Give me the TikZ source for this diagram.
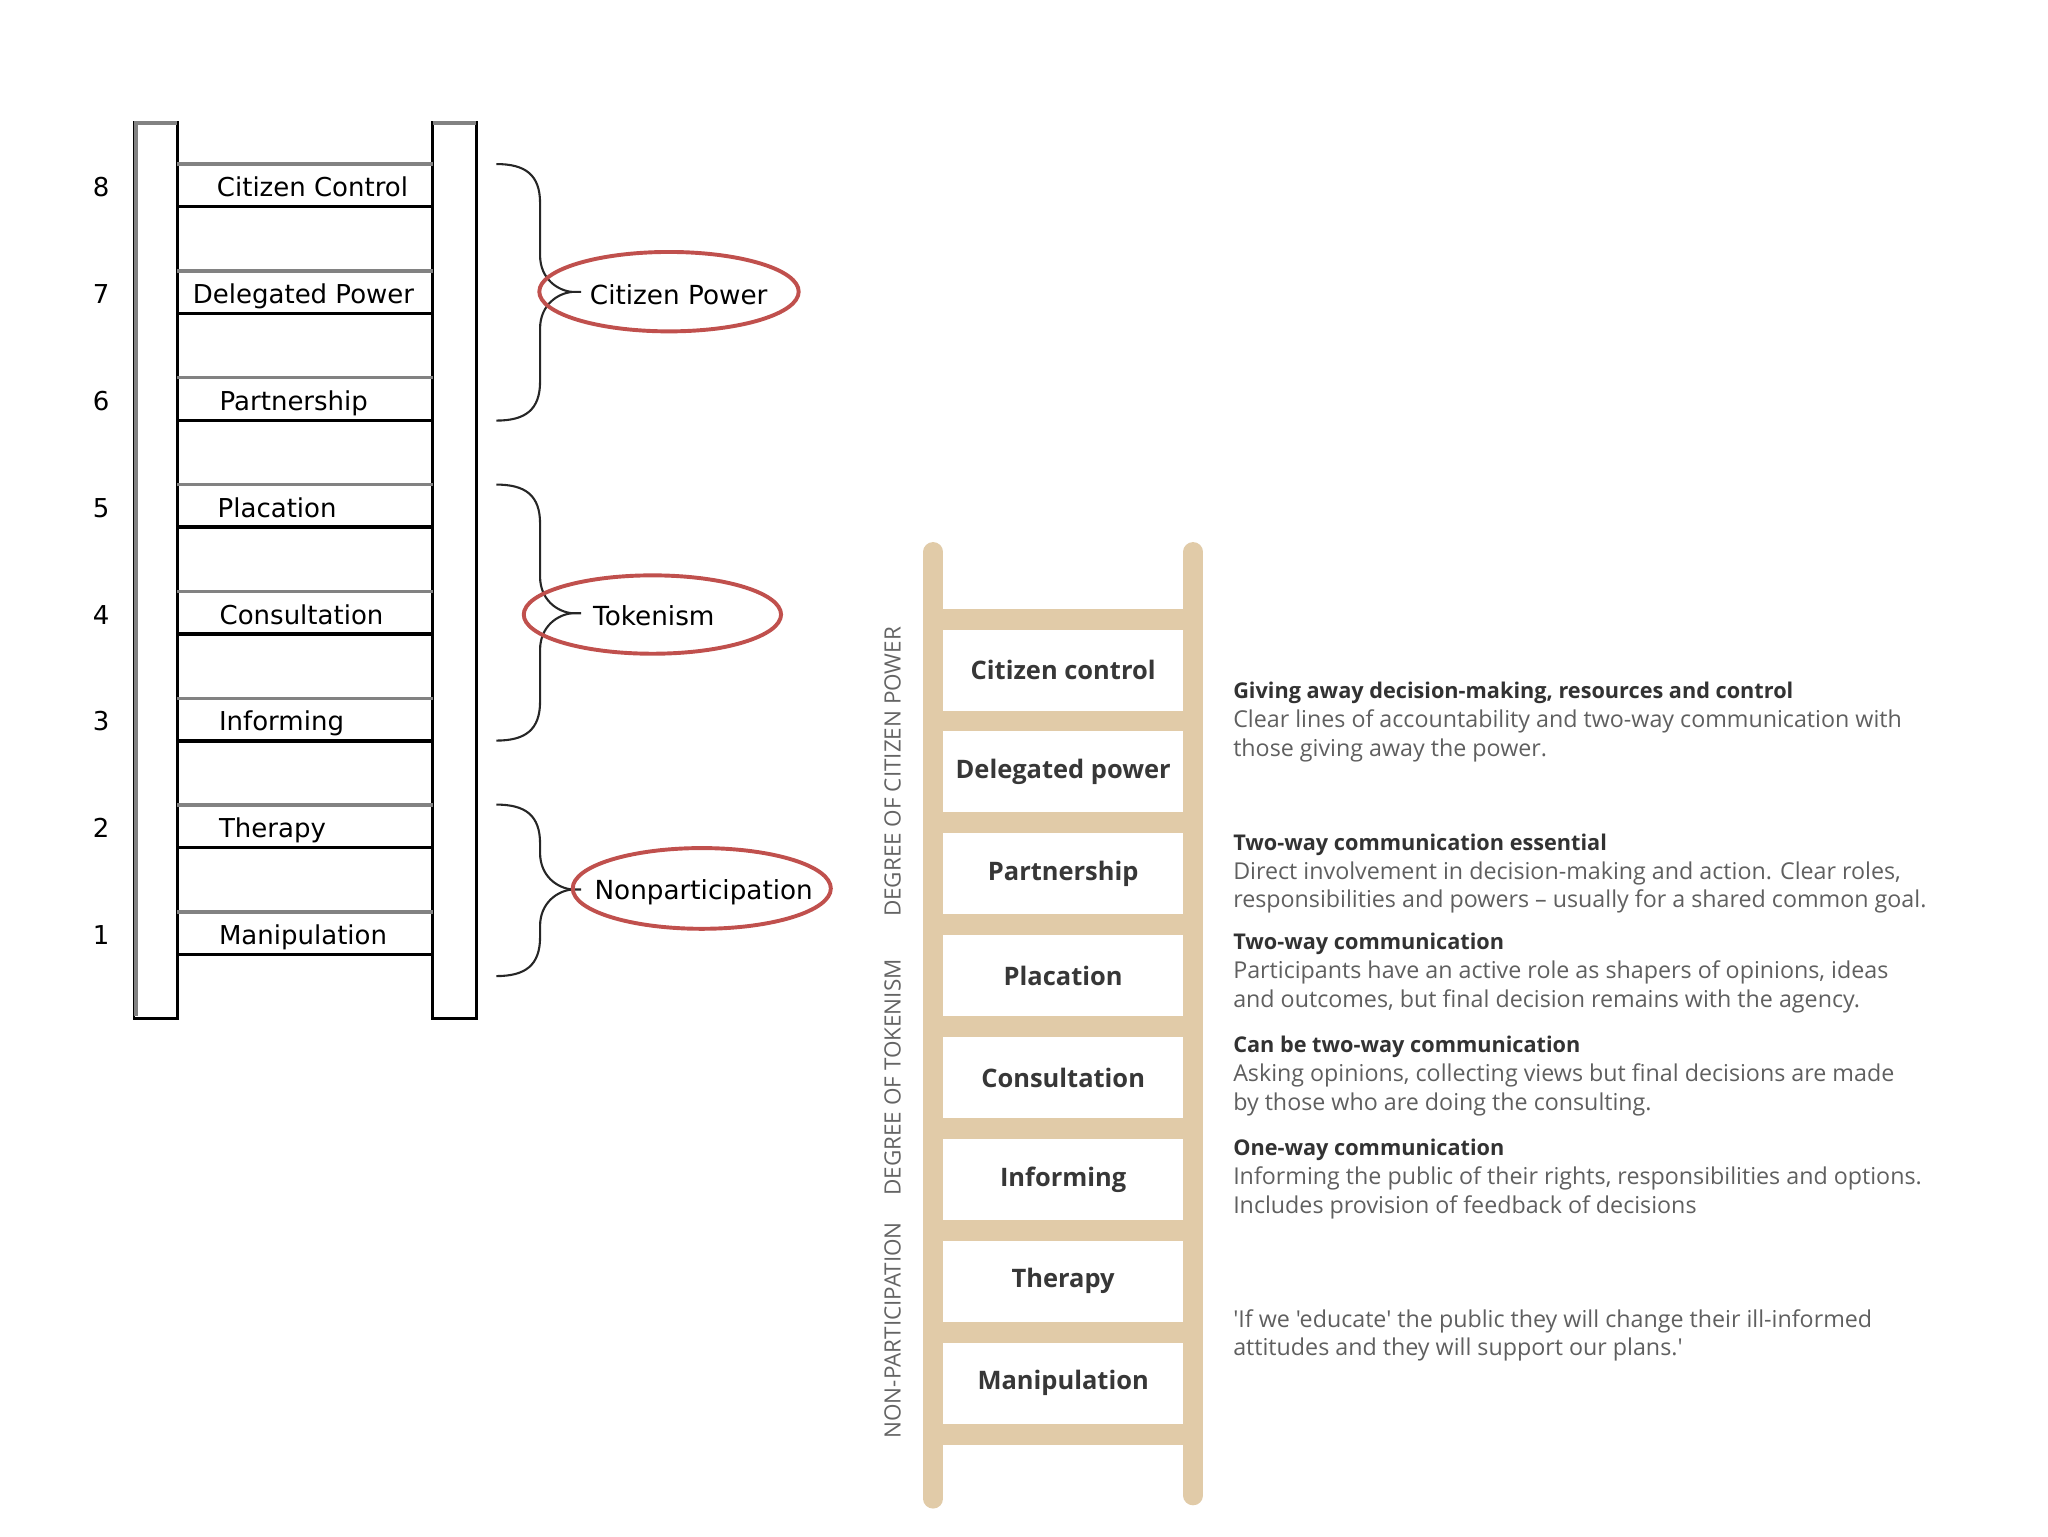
\documentclass[tikz,border=0pt]{standalone}
\usepackage{fontspec}
\setmainfont{DejaVu Sans}
\newfontfamily\rfont{Open Sans}
\definecolor{ladtan}{RGB}{225,203,168}
\definecolor{ellred}{RGB}{192,80,77}
\definecolor{railgray}{RGB}{130,130,130}
\definecolor{boxtxt}{RGB}{55,55,55}
\definecolor{headtxt}{RGB}{50,50,50}
\definecolor{bodytxt}{RGB}{95,95,95}
\definecolor{sidetxt}{RGB}{100,100,100}
\tikzset{
  railbox/.style={draw=black, line width=2.2pt, fill=white},
  railtop/.style={draw=railgray, line width=3pt},
  runggray/.style={draw=railgray, line width=2.6pt},
  rungblack/.style={draw=black, line width=2.6pt},
  rungtext/.style={anchor=base west, inner sep=0pt, font=\fontsize{19.9}{24}\selectfont},
  numtext/.style={anchor=base, inner sep=0pt, font=\fontsize{19.9}{24}\selectfont},
  bracepath/.style={draw=black!85, line width=1.6pt},
  ellip/.style={draw=ellred, line width=3pt},
  elltext/.style={anchor=base west, inner sep=0pt, font=\fontsize{20.1}{24}\selectfont},
  tanrail/.style={draw=ladtan, line width=15pt, line cap=round},
  stepbox/.style={fill=white, minimum width=184pt, minimum height=62pt, inner sep=0pt,
     text=boxtxt, font=\rfont\bfseries\fontsize{19.5}{22}\selectfont},
  sidelabel/.style={rotate=90, anchor=base, inner sep=0pt, text=sidetxt,
     font=\rfont\fontsize{17.2}{20}\selectfont},
  headline/.style={anchor=base west, inner sep=0pt, text=headtxt,
     font=\rfont\bfseries\fontsize{16.6}{20}\selectfont},
  bodyline/.style={anchor=base west, inner sep=0pt, text=bodytxt,
     font=\rfont\fontsize{17.8}{20}\selectfont},
}
\newcommand{\ladderbrace}[3]{%
  \draw[bracepath] (380,#1) .. controls (402,#1) and (413.5,#1+8) .. (413.5,#1+30)
    -- (413.5,#3-28) .. controls (413.5,#3-10) and (427,#3-1) .. (438,#3) -- (445,#3);
  \draw[bracepath] (438,#3) .. controls (427,#3+1) and (413.5,#3+10) .. (413.5,#3+28)
    -- (413.5,#2-30) .. controls (413.5,#2-8) and (402,#2) .. (380,#2);
}
\begin{document}
\begin{tikzpicture}[x=1pt,y=-1pt]
\useasboundingbox (0,0) rectangle (1568,1176);

% ---------- left ladder ----------
\draw[railbox] (102.6,94) rectangle (135.8,779.5);
\draw[railbox] (331.3,94) rectangle (364.5,779.5);
\draw[railtop] (102.6,94) -- (135.8,94);
\draw[railtop] (331.3,94) -- (364.5,94);
\draw[railtop] (104.2,95) -- (104.2,778);

\foreach \k/\t/\n/\xx in {0/Citizen Control/8/165.9, 1/Delegated Power/7/147.5,
   2/Partnership/6/168.0, 3/Placation/5/166.5, 4/Consultation/4/168.0,
   5/Informing/3/167.5, 6/Therapy/2/167.5, 7/Manipulation/1/167.5}{
  \pgfmathsetmacro{\yg}{125.6+81.8*\k}
  \pgfmathsetmacro{\yb}{158.2+81.8*\k}
  \draw[runggray] (135.8,\yg) -- (331.3,\yg);
  \draw[rungblack] (135.8,\yb) -- (331.3,\yb);
  \node[rungtext] (rung\n) at (\xx,\yb-7.6) {\t};
  \node[numtext] (num\n) at (77.5,\yb-7.6) {\n};
}

% ---------- braces ----------
\ladderbrace{125.6}{322}{223.5}
\ladderbrace{371}{567}{469.5}
\ladderbrace{616}{747.3}{681}

% ---------- ellipses ----------
\draw[ellip] (512.2,223.3) ellipse [x radius=99.3, y radius=30.4];
\draw[ellip] (499.5,470.5) ellipse [x radius=98.5, y radius=30];
\draw[ellip] (537.3,680.2) ellipse [x radius=98.8, y radius=30.9];
\node[elltext] (cp) at (451.5,233.3) {Citizen Power};
\node[elltext] (tok) at (454,478.8) {Tokenism};
\node[elltext] (nonp) at (455,688.5) {Nonparticipation};

% ---------- right ladder ----------
\fill[ladtan] (707,466) rectangle (921,1106);
\draw[tanrail] (714.5,422.5) -- (714.5,1147.5);
\draw[tanrail] (913.5,422.5) -- (913.5,1145);
\foreach \i/\t in {0/Citizen control, 1/Delegated power, 2/Partnership, 3/Placation,
   4/Consultation, 5/Informing, 6/Therapy, 7/Manipulation}{
  \node[stepbox] (box\i) at (814,513+78*\i) {\t};
}

\node[sidelabel] (sidecp) at (689.6,591) {DEGREE OF CITIZEN POWER};
\node[sidelabel] (sidetok) at (689.6,825) {DEGREE OF TOKENISM};
\node[sidelabel] (sidenp) at (689.6,1018.5) {NON-PARTICIPATION};

% ---------- descriptions ----------
\node[headline] (h1) at (944,535) {Giving away decision-making, resources and control};
\node[bodyline] (b1a) at (944,557) {Clear lines of accountability and two-way communication with};
\node[bodyline] (b1b) at (944,579) {those giving away the power.};
\node[headline] (h2) at (944,651) {Two-way communication essential};
\node[bodyline] (b2a) at (944,673) {Direct involvement in decision-making and action. Clear roles,};
\node[bodyline] (b2b) at (944,695) {responsibilities and powers – usually for a shared common goal.};
\node[headline] (h3) at (944,727) {Two-way communication};
\node[bodyline] (b3a) at (944,749) {Participants have an active role as shapers of opinions, ideas};
\node[bodyline] (b3b) at (944,771) {and outcomes, but final decision remains with the agency.};
\node[headline] (h4) at (944,806) {Can be two-way communication};
\node[bodyline] (b4a) at (944,828) {Asking opinions, collecting views but final decisions are made};
\node[bodyline] (b4b) at (944,850) {by those who are doing the consulting.};
\node[headline] (h5) at (944,885) {One-way communication};
\node[bodyline] (b5a) at (944,907) {Informing the public of their rights, responsibilities and options.};
\node[bodyline] (b5b) at (944,929) {Includes provision of feedback of decisions};
\node[bodyline] (q1) at (944,1016) {'If we 'educate' the public they will change their ill-informed};
\node[bodyline] (q2) at (944,1038) {attitudes and they will support our plans.'};
\end{tikzpicture}
\end{document}
